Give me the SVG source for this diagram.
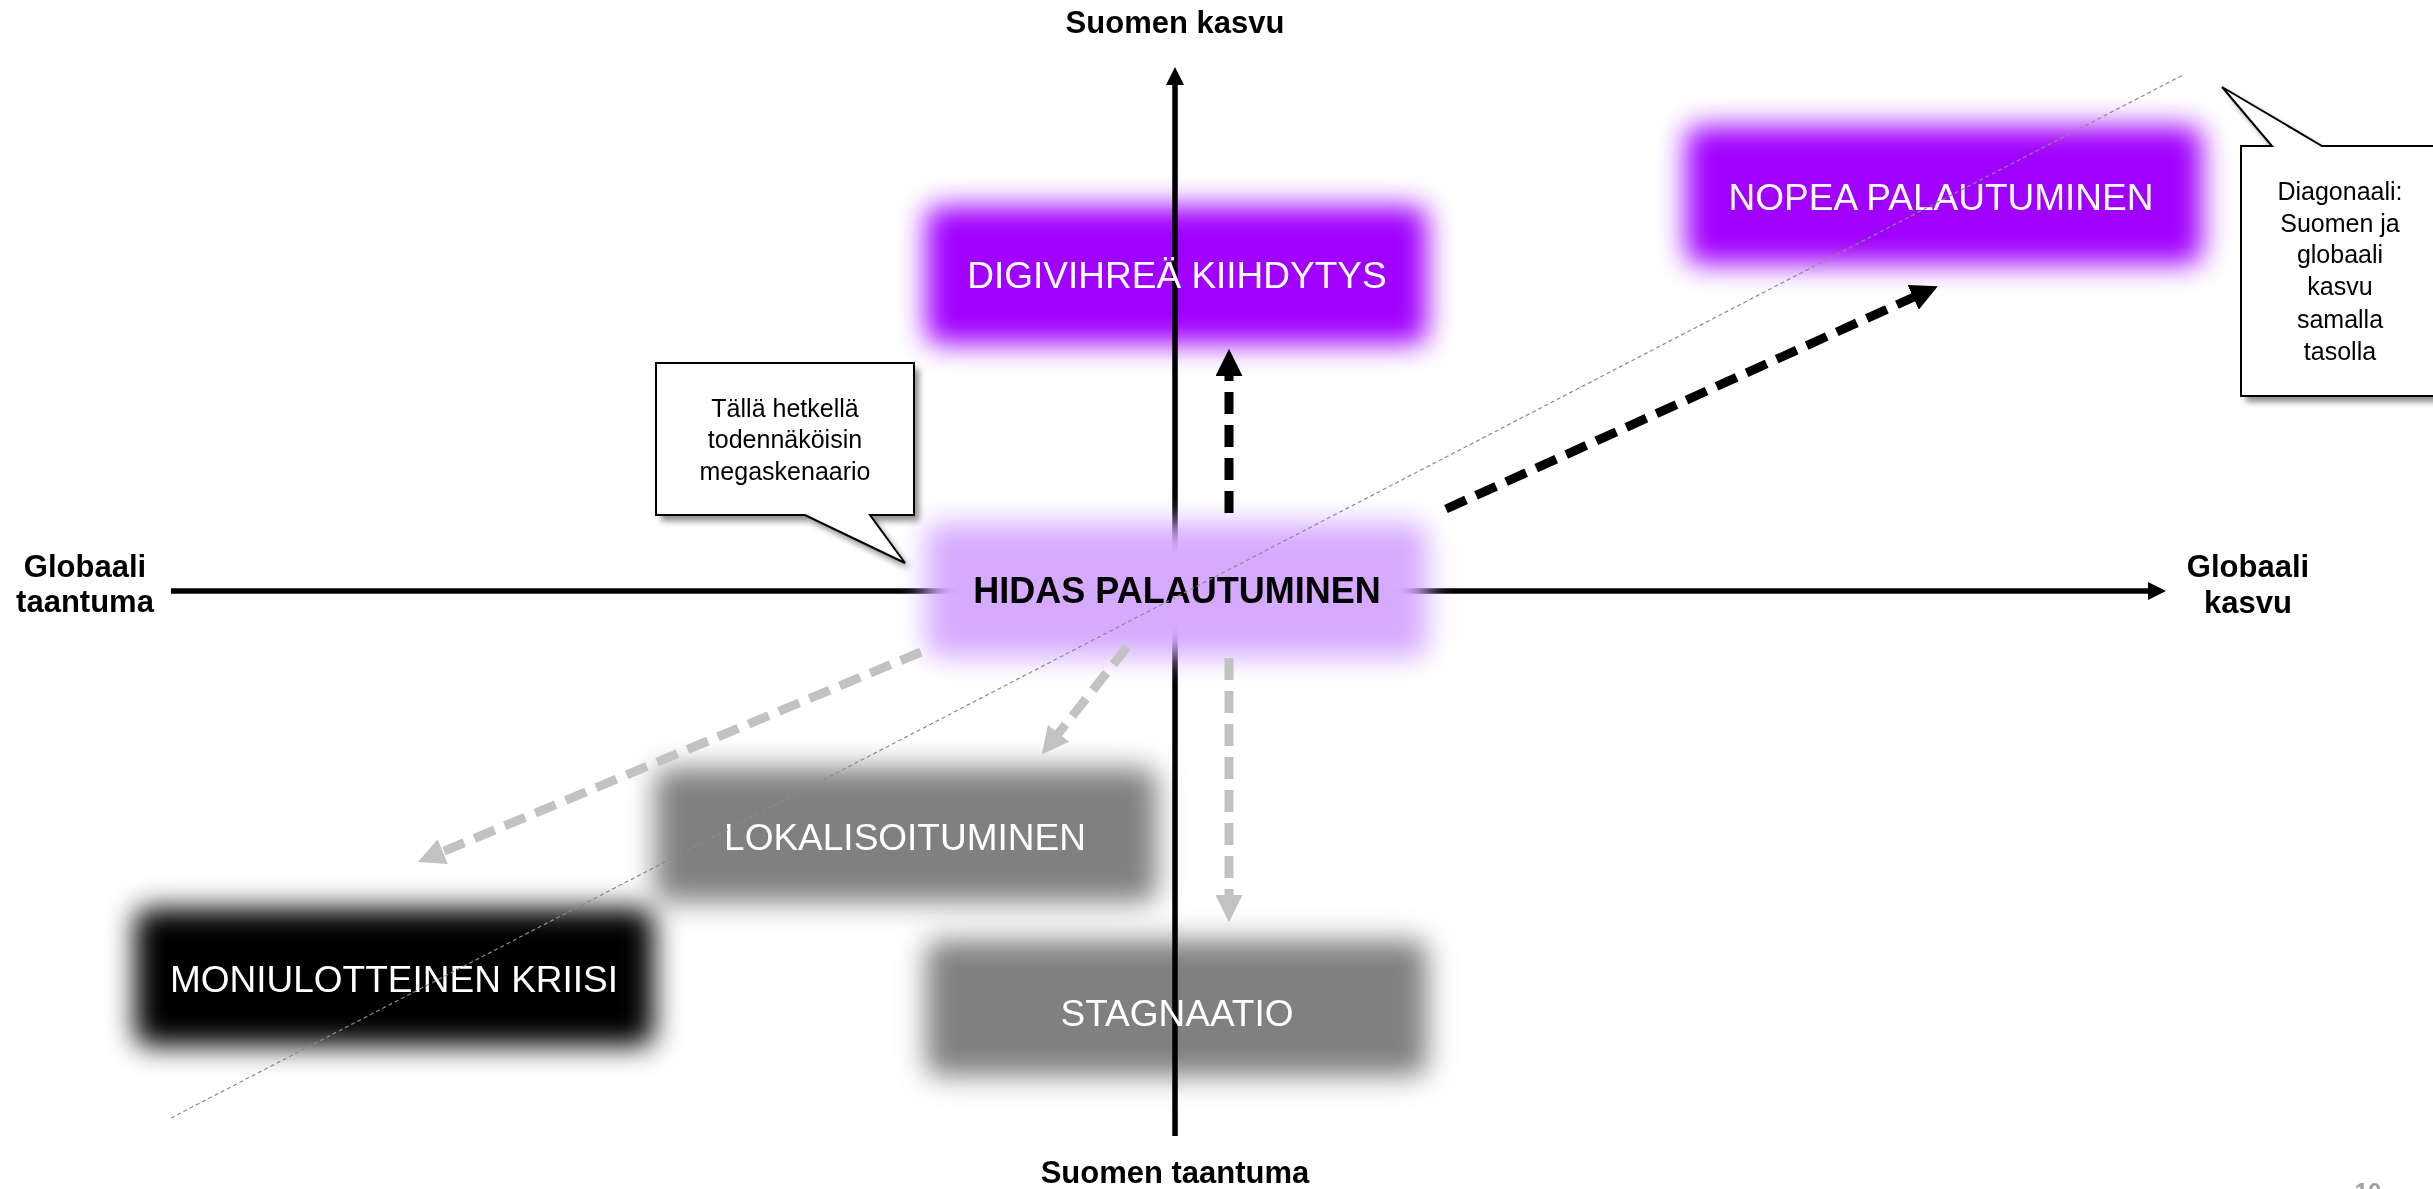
<svg xmlns="http://www.w3.org/2000/svg" width="2433" height="1189" viewBox="0 0 2433 1189">
<style>
.lbl{font-family:"Liberation Sans",Arial,sans-serif;font-weight:bold;font-size:31px;fill:#000;text-anchor:middle}
.nt{font-family:"Liberation Sans",Arial,sans-serif;font-size:37px;fill:#fff;text-anchor:middle}
.ct{font-family:"Liberation Sans",Arial,sans-serif;font-size:25px;fill:#000;text-anchor:middle}
.box{filter:url(#soft);mix-blend-mode:multiply}
.axis{stroke:#000;stroke-width:5.5;fill:none}
.dk{stroke:#000;stroke-width:9;stroke-dasharray:22 11;fill:none;marker-end:url(#hk)}
.gr{stroke:#c2c2c2;stroke-width:9;stroke-dasharray:22 11;fill:none;marker-end:url(#hg)}
.call{fill:#fff;stroke:#000;stroke-width:2}
.shadow{fill:#000;opacity:0.45;filter:url(#sh)}
</style>
<defs>
<filter id="soft" x="-20%" y="-50%" width="140%" height="200%"><feGaussianBlur stdDeviation="14"/></filter>
<filter id="sh" x="-20%" y="-20%" width="140%" height="140%"><feGaussianBlur stdDeviation="3"/></filter>
<marker id="ax" markerUnits="userSpaceOnUse" markerWidth="18" markerHeight="18" refX="1" refY="9" orient="auto"><path d="M0,0 L18,9 L0,18 Z" fill="#000"/></marker>
<marker id="hk" markerUnits="strokeWidth" markerWidth="3" markerHeight="3" refX="0.1" refY="1.5" orient="auto"><path d="M0,0 L3,1.5 L0,3 Z" fill="#000"/></marker>
<marker id="hg" markerUnits="strokeWidth" markerWidth="3" markerHeight="3" refX="0.1" refY="1.5" orient="auto"><path d="M0,0 L3,1.5 L0,3 Z" fill="#c2c2c2"/></marker>
</defs>
<rect width="2433" height="1189" fill="#fff"/>

<g id="axes">
<line class="axis" x1="1175" y1="1136" x2="1175" y2="84" marker-end="url(#ax)"/>
<line class="axis" x1="171" y1="591" x2="2149" y2="591" marker-end="url(#ax)"/>
</g>

<g id="node-lokalisoituminen">
<rect class="box" x="655" y="768" width="502" height="134" rx="14" fill="#808080"/>
<text class="nt" x="905" y="850">LOKALISOITUMINEN</text>
</g>
<g id="node-stagnaatio">
<rect class="box" x="926" y="940" width="501" height="136" rx="14" fill="#808080"/>
<text class="nt" x="1177" y="1026">STAGNAATIO</text>
</g>
<g id="node-moniulotteinen-kriisi">
<rect class="box" x="135" y="908" width="519" height="138" rx="14" fill="#000"/>
<text class="nt" x="394" y="992">MONIULOTTEINEN KRIISI</text>
</g>
<g id="node-digivihrea">
<rect class="box" x="926" y="206" width="501" height="138" rx="14" fill="#a000ff"/>
<text class="nt" x="1177" y="288">DIGIVIHREÄ KIIHDYTYS</text>
</g>
<g id="node-nopea">
<rect class="box" x="1686" y="126" width="516" height="138" rx="14" fill="#a000ff"/>
<text class="nt" x="1941" y="210">NOPEA PALAUTUMINEN</text>
</g>
<g id="node-hidas">
<rect x="926" y="523" width="501" height="134" rx="14" fill="#d6aaff" filter="url(#soft)"/>
<text x="1177" y="603" font-family="'Liberation Sans',Arial,sans-serif" font-weight="bold" font-size="36" fill="#000" text-anchor="middle">HIDAS PALAUTUMINEN</text>
</g>

<g id="connectors">
<line x1="171" y1="1118" x2="2183" y2="75" stroke="#8a8a8a" stroke-width="1.2" stroke-dasharray="4 3"/>
<line class="dk" x1="1229" y1="513" x2="1229" y2="375"/>
<line class="dk" x1="1446" y1="509" x2="1914" y2="297"/>
<line class="gr" x1="921" y1="652" x2="442" y2="852"/>
<line class="gr" x1="1127" y1="647" x2="1058" y2="734"/>
<line class="gr" x1="1229" y1="658" x2="1229" y2="896"/>
</g>

<g id="callout-megaskenaario">
<path class="shadow" transform="translate(5,6)" d="M656,363 H914 V515 H870 L905,563 L805,515 H656 Z"/>
<path class="call" d="M656,363 H914 V515 H870 L905,563 L805,515 H656 Z"/>
<text class="ct" x="785" y="417">Tällä hetkellä</text>
<text class="ct" x="785" y="448">todennäköisin</text>
<text class="ct" x="785" y="480">megaskenaario</text>
</g>

<g id="callout-diagonaali">
<path class="shadow" transform="translate(5,6)" d="M2241,146 H2272 L2222,87 L2322,146 H2445 V396 H2241 Z"/>
<path class="call" d="M2241,146 H2272 L2222,87 L2322,146 H2445 V396 H2241 Z"/>
<text class="ct" x="2340" y="200">Diagonaali:</text>
<text class="ct" x="2340" y="232">Suomen ja</text>
<text class="ct" x="2340" y="263">globaali</text>
<text class="ct" x="2340" y="295">kasvu</text>
<text class="ct" x="2340" y="328">samalla</text>
<text class="ct" x="2340" y="360">tasolla</text>
</g>

<g id="axis-labels">
<text class="lbl" x="1175" y="33">Suomen kasvu</text>
<text class="lbl" x="1175" y="1183">Suomen taantuma</text>
<text class="lbl" x="85" y="577">Globaali</text>
<text class="lbl" x="85" y="612">taantuma</text>
<text class="lbl" x="2248" y="577">Globaali</text>
<text class="lbl" x="2248" y="613">kasvu</text>
<text x="2368" y="1200" font-family="'Liberation Sans',Arial,sans-serif" font-weight="bold" font-size="24" fill="#a0a0a0" text-anchor="middle">10</text>
</g>
</svg>
